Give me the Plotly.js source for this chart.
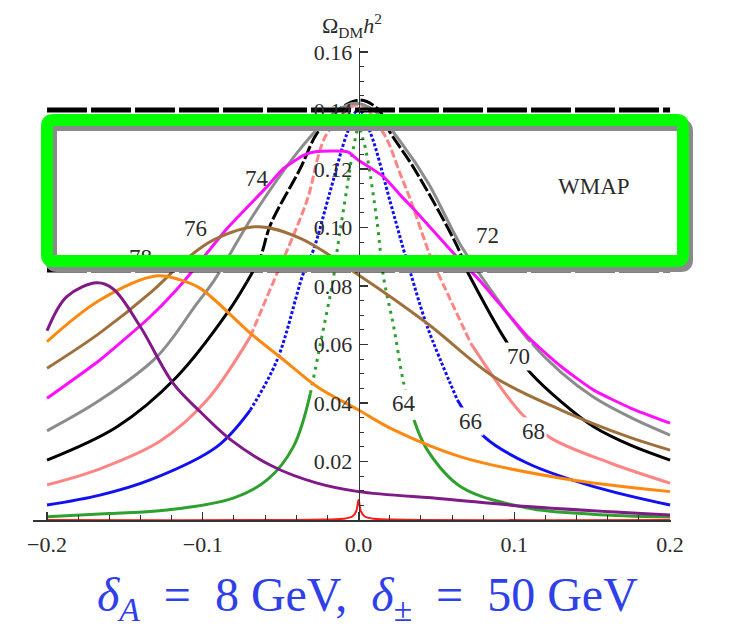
<!DOCTYPE html>
<html>
<head>
<meta charset="utf-8">
<script src="https://cdn.plot.ly/plotly-3.0.1.min.js"></script>
<style>
  html, body { margin: 0; padding: 0; background: #fff; }
  #chart { width: 731px; height: 628px; }
</style>
</head>
<body>
<div id="chart"></div>
<script>
// Relic density Omega_DM h^2 against lambda_345 for dark-matter masses 62..80 GeV
// (delta_A = 8 GeV, delta_pm = 50 GeV).

const x62 = [-0.2, -0.03, -0.01, -0.004, -0.0015, 0, 0.0015, 0.004, 0.01, 0.03, 0.2];
const y62 = [0, 0.0001, 0.0004, 0.0012, 0.003, 0.0068, 0.003, 0.0012, 0.0004, 0.0001, 0];

const x64 = [-0.2, -0.16, -0.123, -0.0804, -0.0587, -0.0418, -0.0309, -0.0244, -0.016, -0.0137, -0.0073, -0.003, 0, 0.003, 0.0056, 0.012, 0.016, 0.0226, 0.029, 0.0356, 0.0442, 0.0656, 0.1085, 0.15, 0.2];
const y64 = [0.0011, 0.0022, 0.0034, 0.0075, 0.0137, 0.0251, 0.0433, 0.0605, 0.0832, 0.0923, 0.114, 0.128, 0.134, 0.13, 0.124, 0.1015, 0.0832, 0.066, 0.0468, 0.0342, 0.0239, 0.0114, 0.0041, 0.002, 0.001];

const x66 = [-0.2, -0.166, -0.1338, -0.0909, -0.0695, -0.0523, -0.0354, -0.029, -0.018, -0.0073, 0, 0.0077, 0.0206, 0.029, 0.0334, 0.0442, 0.0635, 0.0806, 0.1085, 0.151, 0.2];
const y66 = [0.0051, 0.0085, 0.0137, 0.0251, 0.0376, 0.0547, 0.0844, 0.0923, 0.1128, 0.1323, 0.1405, 0.1323, 0.1083, 0.0923, 0.0844, 0.066, 0.041, 0.0285, 0.0194, 0.0114, 0.0051];

const x68 = [-0.2, -0.166, -0.1273, -0.0973, -0.0695, -0.0523, -0.046, -0.033, -0.0201, 0, 0.016, 0.027, 0.0334, 0.0463, 0.054, 0.072, 0.1042, 0.1235, 0.162, 0.2];
const y68 = [0.012, 0.0175, 0.027, 0.041, 0.0627, 0.0844, 0.092, 0.1094, 0.1323, 0.142, 0.1323, 0.118, 0.1094, 0.09, 0.081, 0.0605, 0.0366, 0.028, 0.0194, 0.0126];

const x70 = [-0.2, -0.155, -0.1166, -0.0844, -0.0716, -0.063, -0.0566, -0.0373, -0.0266, -0.013, 0.001, 0.013, 0.02, 0.0356, 0.0635, 0.0699, 0.0956, 0.1106, 0.13, 0.151, 0.175, 0.2];
const y70 = [0.0205, 0.0319, 0.049, 0.0707, 0.0815, 0.09, 0.1009, 0.1203, 0.1323, 0.1402, 0.1436, 0.1402, 0.1328, 0.1203, 0.0934, 0.0849, 0.0605, 0.0502, 0.0405, 0.0319, 0.0255, 0.0205];

const x72 = [-0.2, -0.166, -0.1295, -0.1037, -0.0932, -0.0675, -0.0373, -0.015, -0.002, 0.01, 0.027, 0.045, 0.065, 0.085, 0.1085, 0.13, 0.151, 0.175, 0.2];
const y72 = [0.0305, 0.041, 0.0558, 0.0741, 0.0815, 0.1043, 0.127, 0.1395, 0.1425, 0.140, 0.1293, 0.115, 0.0945, 0.0786, 0.062, 0.0505, 0.042, 0.035, 0.029];

const x74 = [-0.2, -0.166, -0.1338, -0.1123, -0.0844, -0.0587, -0.048, -0.035, -0.0277, -0.007, 0, 0.016, 0.027, 0.0377, 0.061, 0.0785, 0.1085, 0.13, 0.151, 0.175, 0.2];
const y74 = [0.0416, 0.0547, 0.0695, 0.0815, 0.0997, 0.114, 0.1203, 0.1248, 0.1259, 0.1259, 0.123, 0.1174, 0.111, 0.105, 0.0912, 0.0815, 0.0627, 0.0525, 0.0444, 0.0382, 0.0331];

const x76 = [-0.2, -0.166, -0.133, -0.11, -0.093, -0.0651, -0.0373, 0, 0.0442, 0.0868, 0.13, 0.1728, 0.2];
const y76 = [0.0519, 0.064, 0.078, 0.0895, 0.0958, 0.1003, 0.0963, 0.0838, 0.0672, 0.049, 0.0376, 0.0285, 0.0239];

const x78 = [-0.2, -0.166, -0.1295, -0.115, -0.1016, -0.0695, -0.048, -0.0266, 0, 0.0226, 0.0656, 0.13, 0.2];
const y78 = [0.061, 0.0752, 0.0835, 0.0822, 0.0792, 0.0639, 0.0547, 0.0456, 0.0376, 0.0308, 0.0216, 0.0143, 0.0097];

const x80 = [-0.2, -0.1873, -0.168, -0.1575, -0.14, -0.119, -0.1016, -0.082, -0.0546, -0.0266, 0, 0.055, 0.1085, 0.2];
const y80 = [0.0647, 0.0764, 0.0811, 0.079, 0.066, 0.0467, 0.037, 0.0274, 0.0182, 0.0126, 0.0097, 0.0072, 0.0046, 0.0017];

// WMAP-allowed band
const wmapBand = [0.0855, 0.1402];

// tick labels
const xTickVals = [-0.2, -0.1, 0, 0.1, 0.2];
const xTickText = ['\u22120.2', '\u22120.1', '0.0', '0.1', '0.2'];
const yTickVals = [0.02, 0.04, 0.06, 0.08, 0.10, 0.12, 0.14, 0.16];
const yTickText = ['0.02', '0.04', '0.06', '0.08', '0.10', '0.12', '0.14', '0.16'];

// curve labels (mass in GeV)
const curveLabels = ['64', '66', '68', '70', '72', '74', '76', '78'];
const labelX = [0.029, 0.072, 0.1125, 0.1029, 0.0828, -0.0651, -0.1048, -0.140];
const labelY = [0.040, 0.0336, 0.0302, 0.0558, 0.0974, 0.1169, 0.0998, 0.0892];

// per-curve drawing styles; steep parts above `thr` use the `dash` pattern
const curves = [
  { x: x62, y: y62, color: '#ff1a1a', width: 2 },
  { x: x64, y: y64, color: '#2ea02e', width: 3, thr: 0.045, dash: '3px,5px' },
  { x: x66, y: y66, color: '#1010f0', width: 3, thr: 0.05, dash: '3px,2px' },
  { x: x68, y: y68, color: '#ff8585', width: 3, thr: 0.08, dash: '8px,3px' },
  { x: x70, y: y70, color: '#000000', width: 3, thr: 0.085, dash: '14px,3px' },
  { x: x72, y: y72, color: '#8c8c8c', width: 3 },
  { x: x74, y: y74, color: '#ff10ff', width: 3, smooth: 0.5 },
  { x: x76, y: y76, color: '#a0703c', width: 3 },
  { x: x78, y: y78, color: '#ff8810', width: 3 },
  { x: x80, y: y80, color: '#7f1a86', width: 3 }
];

const traces = [];
curves.forEach(c => {
  const smoothing = c.smooth !== undefined ? c.smooth : 1;
  if (c.thr === undefined) {
    traces.push({ x: c.x, y: c.y, mode: 'lines', hoverinfo: 'skip', showlegend: false,
      line: { color: c.color, width: c.width, shape: 'spline', smoothing: smoothing } });
    return;
  }
  const n = c.y.length;
  const hi = c.y.map(v => v >= c.thr);
  const solidY = c.y.map((v, i) => hi[i] ? null : v);
  const steepY = c.y.map((v, i) => (hi[i] || (i > 0 && hi[i - 1]) || (i < n - 1 && hi[i + 1])) ? v : null);
  traces.push({ x: c.x, y: solidY, mode: 'lines', hoverinfo: 'skip', showlegend: false, connectgaps: false,
    line: { color: c.color, width: c.width, shape: 'spline', smoothing: smoothing } });
  traces.push({ x: c.x, y: steepY, mode: 'lines', hoverinfo: 'skip', showlegend: false, connectgaps: false,
    line: { color: c.color, width: c.width, dash: c.dash, shape: 'spline', smoothing: smoothing } });
});

// WMAP band edges
wmapBand.forEach(v => {
  traces.push({ x: [-0.2, 0.2], y: [v, v], mode: 'lines', hoverinfo: 'skip', showlegend: false,
    line: { color: '#000', width: 5, dash: '40px,4px' } });
});

// the last label sits under the highlight frame, so draw it as a text trace
const lastIdx = curveLabels.length - 1;
traces.push({ x: [labelX[lastIdx]], y: [labelY[lastIdx]], mode: 'text', text: [curveLabels[lastIdx]],
  textfont: { family: 'Liberation Serif, serif', size: 23, color: '#2b2b2b' },
  hoverinfo: 'skip', showlegend: false, cliponaxis: false });

const gapLabels = ['64', '66', '68', '70'];
const annotations = curveLabels.slice(0, lastIdx).map((t, i) => ({
  x: labelX[i], y: labelY[i], xref: 'x', yref: 'y', text: t, showarrow: false,
  font: { family: 'Liberation Serif, serif', size: 23, color: '#2b2b2b' },
  bgcolor: gapLabels.includes(t) ? '#ffffff' : 'rgba(0,0,0,0)', borderpad: 1
}));

annotations.push({
  x: 0.151, y: 0.114, xref: 'x', yref: 'y', text: 'WMAP', showarrow: false,
  font: { family: 'Liberation Serif, serif', size: 23, color: '#2b2b2b' }
});
annotations.push({
  x: -0.004, y: 1.047, xref: 'x', yref: 'paper', text: '\u03A9<sub>DM</sub><i>h</i><sup>2</sup>',
  showarrow: false, xanchor: 'center', yanchor: 'middle',
  font: { family: 'Liberation Serif, serif', size: 22, color: '#2b2b2b' }
});
annotations.push({
  x: 0.2135, y: -0.0012, xref: 'x', yref: 'y', text: '\u03BB<sub>345</sub>',
  showarrow: false, xanchor: 'left', yanchor: 'middle',
  font: { family: 'Liberation Serif, serif', size: 22, color: '#2b2b2b' }
});
annotations.push({
  x: 0.525, y: -0.165, xref: 'paper', yref: 'paper',
  text: '<i>\u03B4</i><sub><i>A</i></sub>\u2002=\u20028 GeV,\u2002<i>\u03B4</i><sub>\u00B1</sub>\u2002=\u200250 GeV',
  showarrow: false, xanchor: 'center', yanchor: 'middle',
  font: { family: 'Liberation Serif, serif', size: 48, color: '#3040e8' }
});

// highlight frame around the band, with a soft grey drop shadow
const plotL = 33, plotW = 638, plotB = 520, plotH = 472;
const px2x = p => (p - plotL) / plotW;
const px2y = p => (plotB - p) / plotH;
function roundedRect(l, t, r, b, rad) {
  const X = px2x, Y = px2y;
  return `M ${X(l + rad)},${Y(t)} L ${X(r - rad)},${Y(t)} Q ${X(r)},${Y(t)} ${X(r)},${Y(t + rad)} ` +
         `L ${X(r)},${Y(b - rad)} Q ${X(r)},${Y(b)} ${X(r - rad)},${Y(b)} ` +
         `L ${X(l + rad)},${Y(b)} Q ${X(l)},${Y(b)} ${X(l)},${Y(b - rad)} ` +
         `L ${X(l)},${Y(t + rad)} Q ${X(l)},${Y(t)} ${X(l + rad)},${Y(t)} Z`;
}
const shapes = [
  { type: 'path', xref: 'paper', yref: 'paper', layer: 'above',
    path: roundedRect(51, 125, 687, 266, 6), line: { color: '#8a8a8a', width: 12 } },
  { type: 'path', xref: 'paper', yref: 'paper', layer: 'above',
    path: roundedRect(47, 120, 683, 261, 6), line: { color: '#00ff00', width: 12 } }
];

const xMin = -0.209, xMax = 0.2006;
const layout = {
  width: 731, height: 628,
  margin: { l: plotL, r: 731 - plotL - plotW, t: plotB - plotH, b: 628 - plotB },
  paper_bgcolor: '#fff', plot_bgcolor: '#fff',
  showlegend: false,
  xaxis: {
    range: [xMin, xMax], showgrid: false, zeroline: false,
    showline: true, linecolor: '#333', linewidth: 1.5,
    ticks: 'inside', ticklen: 8, tickwidth: 1.2, tickcolor: '#333',
    tickvals: xTickVals, ticktext: xTickText, ticklabelstandoff: 4,
    minor: { dtick: 0.02, tick0: 0, ticks: 'inside', ticklen: 5, tickcolor: '#333', tickwidth: 1 },
    tickfont: { family: 'Liberation Serif, serif', size: 22, color: '#2b2b2b' }
  },
  yaxis: {
    range: [0, 0.1614], showgrid: false, zeroline: false,
    anchor: 'free', position: (0 - xMin) / (xMax - xMin),
    showline: true, linecolor: '#333', linewidth: 1.5,
    ticks: 'inside', ticklen: 8, tickwidth: 1.2, tickcolor: '#333',
    tickvals: yTickVals, ticktext: yTickText, ticklabelstandoff: 2,
    minor: { dtick: 0.005, tick0: 0, ticks: 'inside', ticklen: 4, tickcolor: '#333', tickwidth: 1 },
    tickfont: { family: 'Liberation Serif, serif', size: 22, color: '#2b2b2b' }
  },
  annotations: annotations,
  shapes: shapes
};

Plotly.newPlot('chart', traces, layout, { displayModeBar: false, staticPlot: true });
</script>
</body>
</html>
